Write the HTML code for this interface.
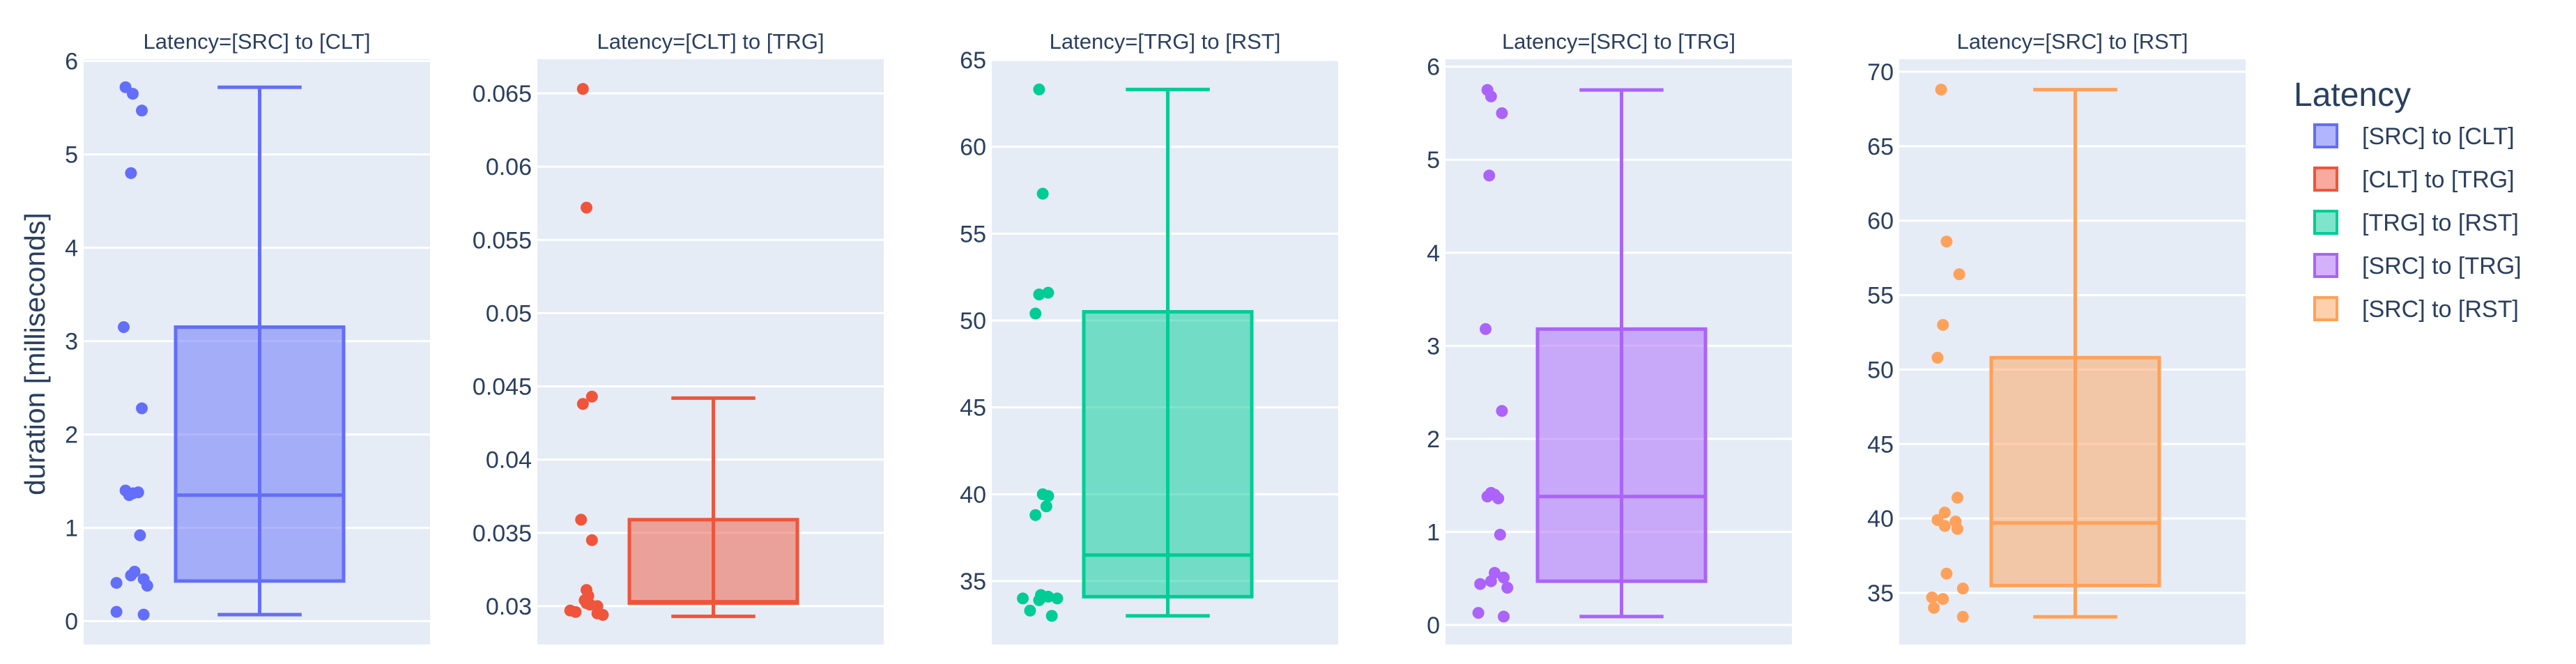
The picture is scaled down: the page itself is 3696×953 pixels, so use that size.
<!DOCTYPE html>
<html><head><meta charset="utf-8">
<style>
html,body{margin:0;padding:0;background:#fff;}
svg{display:block;font-family:"Liberation Sans",sans-serif;}
</style></head>
<body>
<svg id="chart" width="3696" height="953" viewBox="0 0 3696 953" xmlns="http://www.w3.org/2000/svg">
<text x="0" y="0" transform="translate(64,508) rotate(-90)" text-anchor="middle" font-size="41" fill="#2a3f5f">duration [milliseconds]</text>
<g id="legend">
<text x="3291" y="152" font-size="48" fill="#2a3f5f">Latency</text>
</g>
</svg>
<script>
const categories = ["[SRC] to [CLT]","[CLT] to [TRG]","[TRG] to [RST]","[SRC] to [TRG]","[SRC] to [RST]"];
const colors = ["#636EFA","#EF553B","#00CC96","#AB63FA","#FFA15A"];
const q1s = [0.43, 0.0302, 34.1, 0.47, 35.5];
const medians = [1.35, 0.0303, 36.5, 1.38, 39.7];
const q3s = [3.15, 0.0359, 50.5, 3.18, 50.8];
const lowers = [0.07, 0.0293, 33.0, 0.09, 33.4];
const uppers = [5.72, 0.0442, 63.3, 5.75, 68.8];
const points0 = [5.72,5.65,5.47,4.8,3.15,2.28,1.4,1.37,1.35,1.38,0.92,0.53,0.49,0.45,0.41,0.38,0.1,0.07];
const points1 = [0.0653,0.0572,0.0443,0.0438,0.0359,0.0345,0.0311,0.0307,0.0304,0.0302,0.0301,0.0303,0.0300,0.0297,0.0296,0.0294,0.0295];
const points2 = [63.3,57.3,51.6,51.5,50.4,40.0,39.9,39.3,38.8,34.2,34.1,34.1,34.0,34.0,33.9,33.3,33.0];
const points3 = [5.75,5.68,5.5,4.83,3.18,2.3,1.42,1.4,1.38,1.36,0.97,0.56,0.51,0.47,0.44,0.4,0.13,0.09];
const points4 = [68.8,58.6,56.4,53.0,50.8,41.4,40.4,39.9,39.8,39.5,39.3,36.3,35.3,34.6,34.7,34.0,33.4];
const pointSets = [points0, points1, points2, points3, points4];
const jitter0 = [-0.4,0.0,0.5,-0.1,-0.5,0.5,-0.4,0.0,-0.2,0.3,0.4,0.1,-0.1,0.6,-0.9,0.8,-0.9,0.6];
const jitter1 = [-0.2,0.0,0.3,-0.2,-0.3,0.3,0.0,0.1,-0.1,0.0,0.2,0.0,0.6,-0.9,-0.6,0.9,0.6];
const jitter2 = [-0.1,0.1,0.4,-0.1,-0.3,0.1,0.4,0.3,-0.3,0.0,0.4,0.1,-1.0,0.9,-0.1,-0.6,0.6];
const jitter3 = [-0.4,-0.2,0.4,-0.3,-0.5,0.4,-0.2,0.0,-0.4,0.2,0.3,0.0,0.5,-0.2,-0.8,0.7,-0.9,0.5];
const jitter4 = [-0.4,-0.1,0.6,-0.3,-0.6,0.5,-0.2,-0.6,0.4,-0.2,0.5,-0.1,0.8,-0.3,-0.9,-0.8,0.8];
const jitters = [jitter0, jitter1, jitter2, jitter3, jitter4];
const ticks0 = [0,1,2,3,4,5,6];
const ticks1 = [0.03,0.035,0.04,0.045,0.05,0.055,0.06,0.065];
const ticks2 = [35,40,45,50,55,60,65];
const ticks3 = [0,1,2,3,4,5,6];
const ticks4 = [35,40,45,50,55,60,65,70];
const tickSets = [ticks0, ticks1, ticks2, ticks3, ticks4];
const tickLabels1 = ["0.03","0.035","0.04","0.045","0.05","0.055","0.06","0.065"];
const yRanges = [[-0.25,6.02],[0.02738,0.06733],[31.35,65.04],[-0.21,6.08],[31.54,70.84]];

const NS = "http://www.w3.org/2000/svg";
const svg = document.getElementById('chart');
const panelX = [120, 771, 1423, 2074, 2725];
const panelW = 497, plotTop = 85, plotBottom = 925;
function mk(tag, attrs, parent){const e=document.createElementNS(NS,tag);for(const k in attrs)e.setAttribute(k,attrs[k]);(parent||svg).appendChild(e);return e;}
function fade(hex,a){const r=parseInt(hex.slice(1,3),16),g=parseInt(hex.slice(3,5),16),b=parseInt(hex.slice(5,7),16);return `rgba(${r},${g},${b},${a})`;}

categories.forEach((cat,i)=>{
  const x0 = panelX[i];
  const [ymin,ymax] = yRanges[i];
  const yScale = v => plotBottom - (v - ymin)/(ymax - ymin)*(plotBottom - plotTop);
  const g = mk('g',{});
  
  
  const bg = mk('rect',{x:x0,y:plotTop,width:panelW,height:plotBottom-plotTop,fill:'#E5ECF6'},g);
  
  
  tickSets[i].forEach((t,k)=>{
    const y = yScale(t);
    const gl = mk('line',{x1:x0,x2:x0+panelW,y1:y,y2:y,stroke:'#fff','stroke-width':3},g);
    
    
    const tl = mk('text',{x:x0-8,y:y+12,'text-anchor':'end','font-size':34,fill:'#2a3f5f'},g);
    
    
    tl.textContent = i===1 ? tickLabels1[k] : String(t);
  });
  const title = mk('text',{x:x0+panelW/2,y:70,'text-anchor':'middle','font-size':31,fill:'#2a3f5f'},g);
  
  
  title.textContent = 'Latency=' + cat;
  const c = colors[i];
  const bw = 241, cx = x0 + 252 - 120 + bw/2;
  const wl = mk('line',{x1:cx,x2:cx,y1:yScale(lowers[i]),y2:yScale(uppers[i]),stroke:c,'stroke-width':5},g);
  
  
  [lowers[i],uppers[i]].forEach(v=>{
    const cap = mk('line',{x1:cx-bw/4,x2:cx+bw/4,y1:yScale(v),y2:yScale(v),stroke:c,'stroke-width':5},g);
    
    
  });
  const box = mk('rect',{x:cx-bw/2,y:yScale(q3s[i]),width:bw,height:yScale(q1s[i])-yScale(q3s[i]),fill:fade(c,0.5),stroke:c,'stroke-width':5},g);
  
  
  const med = mk('line',{x1:cx-bw/2,x2:cx+bw/2,y1:yScale(medians[i]),y2:yScale(medians[i]),stroke:c,'stroke-width':5},g);
  
  
  const px = cx - 182;
  pointSets[i].forEach((v,k)=>{
    const p = mk('circle',{cx:px + jitters[i][k]*26, cy:yScale(v), r:8.5, fill:c},g);
    
    
  });
  const leg = document.getElementById('legend');
  const ly = 195 + i*62;
  const sw = mk('rect',{x:3321,y:ly-16,width:32,height:32,fill:fade(c,0.5),stroke:c,'stroke-width':4},leg);
  
  
  const lt = mk('text',{x:3389,y:ly+12,'font-size':34,fill:'#2a3f5f'},leg);
  
  
  lt.textContent = cat;
});
</script>
</body></html>
